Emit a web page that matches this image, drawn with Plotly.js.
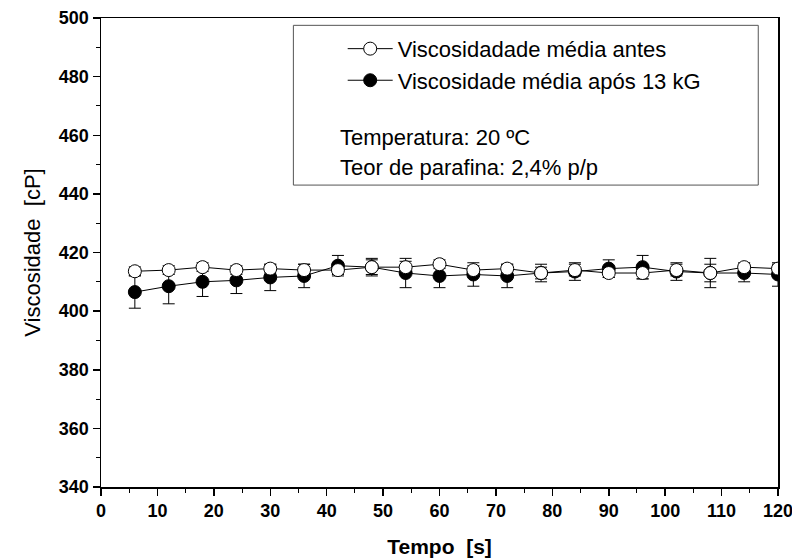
<!DOCTYPE html>
<html><head><meta charset="utf-8">
<script src="https://cdn.plot.ly/plotly-3.0.1.min.js"></script>
<style>html,body{margin:0;padding:0;background:#fff}</style>
</head><body>
<div id="chart" style="width:792px;height:558px"></div>
<script>
const tempo = [6,12,18,24,30,36,42,48,54,60,66,72,78,84,90,96,102,108,114,120];
const antes = [413.6,414,415,414,414.5,414,414,415,415,416,414,414.5,413,414,413,413,414,413,415,414.5];
const antesErr = [1.5,1.5,1.5,1.5,1.5,2,1.5,2.5,2,1.5,1.5,1.5,2,2,1.5,2,2,5,1.5,1.5];
const apos = [406.5,408.5,410,410.5,411.5,412,415.5,415,413,412,412.5,412,413,413.5,414.5,415,413.5,413,413,412.5];
const aposErr = [5.5,6,5,4.5,4.5,4,3.5,3,5,4,4,4,3,3,3,4,3,3,3,4];
const xTicks = [0,10,20,30,40,50,60,70,80,90,100,110,120];
const yTicks = [340,360,380,400,420,440,460,480,500];
const nameAntes = 'Viscosidadade média antes';
const nameApos = 'Viscosidade média após 13 kG';
const noteLines = ['Temperatura: 20 ºC', 'Teor de parafina: 2,4% p/p'];

const FONT = 'Liberation Sans, Arial, sans-serif';
const traces = [
  {x: tempo, y: apos, name: nameApos, type: 'scatter', mode: 'lines+markers',
   line: {color: '#000', width: 1},
   marker: {symbol: 'circle', size: 13, color: '#000', line: {color: '#000', width: 1}},
   error_y: {type: 'data', array: aposErr, visible: true, color: '#000', thickness: 1, width: 6}},
  {x: tempo, y: antes, name: nameAntes, type: 'scatter', mode: 'lines+markers',
   line: {color: '#000', width: 1},
   marker: {symbol: 'circle', size: 13, color: '#fff', line: {color: '#000', width: 1}},
   error_y: {type: 'data', array: antesErr, visible: true, color: '#000', thickness: 1, width: 6}}
];

const layout = {
  width: 792, height: 558,
  margin: {l: 101, r: 14, t: 18, b: 71},
  paper_bgcolor: '#fff', plot_bgcolor: '#fff',
  font: {family: FONT, color: '#000'},
  showlegend: true,
  legend: {x: 0.357, y: 0.979, xanchor: 'left', yanchor: 'top', traceorder: 'reversed',
    bgcolor: 'rgba(0,0,0,0)', font: {size: 22, family: FONT},
    itemwidth: 45, tracegroupgap: 0},
  xaxis: {range: [0, 120], tickvals: xTicks, ticktext: xTicks.map(v => '<b>' + v + '</b>'),
    ticklabeloverflow: 'allow',
    ticks: 'outside', ticklen: 7, tickwidth: 1.5, tickcolor: '#000',
    minor: {dtick: 5, ticks: 'outside', ticklen: 4, tickwidth: 1, tickcolor: '#000'},
    showline: true, linecolor: '#000', linewidth: 1.5, mirror: true, showgrid: false, zeroline: false,
    tickfont: {size: 18, family: FONT},
    title: {text: '<b>Tempo  [s]</b>', font: {size: 21}, standoff: 20}},
  yaxis: {range: [340, 500], tickvals: yTicks, ticktext: yTicks.map(v => '<b>' + v + '</b>'),
    ticks: 'outside', ticklen: 7, tickwidth: 1.5, tickcolor: '#000',
    minor: {dtick: 10, ticks: 'outside', ticklen: 4, tickwidth: 1, tickcolor: '#000'},
    showline: true, linecolor: '#000', linewidth: 1.5, mirror: true, showgrid: false, zeroline: false,
    tickfont: {size: 18, family: FONT},
    title: {text: 'Viscosidade  [cP]', font: {size: 22}, standoff: 12}},
  shapes: [{type: 'rect', xref: 'x', yref: 'y', x0: 34.1, x1: 116.5, y0: 443, y1: 497.5,
    line: {color: '#555', width: 1}, fillcolor: 'rgba(0,0,0,0)'}],
  annotations: noteLines.map((t, i) => ({
    text: t, xref: 'x', yref: 'y', x: 42.0, y: 459.3 - i * 10.2, xanchor: 'left', yanchor: 'middle',
    showarrow: false, font: {size: 22, family: FONT, color: '#000'}
  }))
};
Plotly.newPlot('chart', traces, layout, {displayModeBar: false, staticPlot: true});
</script>
</body></html>
